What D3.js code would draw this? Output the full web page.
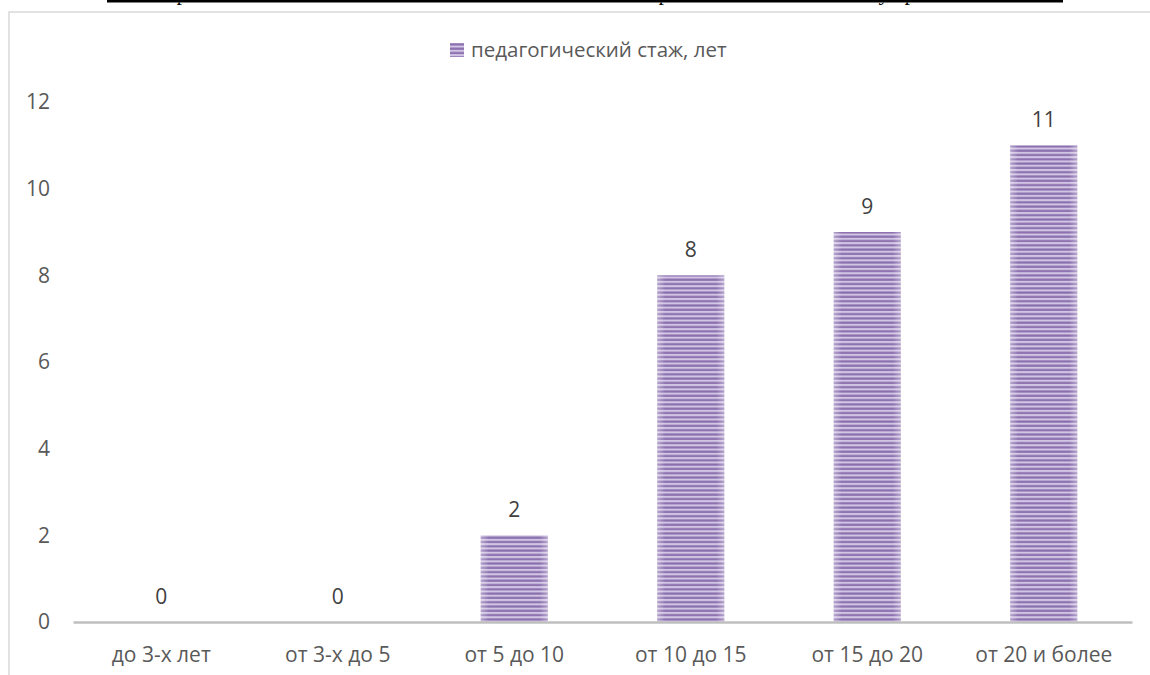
<!DOCTYPE html>
<html>
<head>
<meta charset="utf-8">
<script src="https://cdn.jsdelivr.net/npm/d3@7"></script>
<style>
  body { margin: 0; background: #fff; }
  svg { display: block; font-family: "Open Sans", sans-serif; }
</style>
</head>
<body>
<div id="chart"></div>
<script>
// chart data
var categories = ["до 3-х лет", "от 3-х до 5", "от 5 до 10", "от 10 до 15", "от 15 до 20", "от 20 и более"];
var values = [0, 0, 2, 8, 9, 11];
var yTicks = [0, 2, 4, 6, 8, 10, 12];
var seriesName = "педагогический стаж, лет";

var W = 1150, H = 675;
var margin = {top: 102, right: 18, bottom: 53, left: 73},
    width = W - margin.left - margin.right,
    height = H - margin.top - margin.bottom;

var svg = d3.select("#chart").append("svg")
    .attr("width", W)
    .attr("height", H);

// stripe pattern for the bars
var defs = svg.append("defs");
var pat = defs.append("pattern")
    .attr("id", "stripes")
    .attr("patternUnits", "userSpaceOnUse")
    .attr("width", 8)
    .attr("height", 4.3);
pat.append("rect").attr("width", 8).attr("height", 4.3).attr("fill", "#d2c5e4");
pat.append("rect").attr("y", 0.3).attr("width", 8).attr("height", 2.2).attr("fill", "#8a6fae");

var grad = defs.append("linearGradient").attr("id", "edgeGlow");
grad.append("stop").attr("offset", "0%").attr("stop-color", "#fff").attr("stop-opacity", 0.35);
grad.append("stop").attr("offset", "12%").attr("stop-color", "#fff").attr("stop-opacity", 0);
grad.append("stop").attr("offset", "88%").attr("stop-color", "#fff").attr("stop-opacity", 0);
grad.append("stop").attr("offset", "100%").attr("stop-color", "#fff").attr("stop-opacity", 0.35);

// heading fragment at the top of the page (cut off by the page edge)
[182, 664, 884, 910].forEach(function (px, i) {
    svg.append("text")
        .attr("x", px).attr("y", 0)
        .attr("text-anchor", "middle")
        .style("font-family", "'Liberation Serif', serif")
        .style("font-size", "22px")
        .text(i === 2 ? "у" : "р");
});
svg.append("rect")
    .attr("x", 0).attr("y", 0)
    .attr("width", W).attr("height", 2.5)
    .attr("fill", "#fff");
svg.append("rect")
    .attr("x", 107).attr("y", 0)
    .attr("width", 956).attr("height", 2.5)
    .attr("fill", "#000");

// chart frame
svg.append("rect")
    .attr("x", 9).attr("y", 12)
    .attr("width", W + 20).attr("height", H + 20)
    .attr("fill", "none")
    .attr("stroke", "#d9d9d9")
    .attr("stroke-width", 1.5);

var g = svg.append("g")
    .attr("transform", "translate(" + margin.left + "," + margin.top + ")");

var x = d3.scaleBand()
    .domain(categories)
    .range([0, width])
    .paddingInner(0.62)
    .paddingOuter(0.31);

var y = d3.scaleLinear()
    .domain([0, 12])
    .range([height, 0]);

// y axis labels
var yAxis = g.append("g")
    .attr("transform", "translate(-23,0)")
    .call(d3.axisLeft(y).tickValues(yTicks).tickSize(0).tickPadding(0));
yAxis.select(".domain").remove();
yAxis.selectAll("text")
    .attr("fill", "#595959")
    .style("font-size", "21px")
    .style("font-family", "'Open Sans', sans-serif");

// bars
g.selectAll(".bar")
    .data(values)
    .enter().append("rect")
    .attr("class", "bar")
    .attr("x", function (d, i) { return x(categories[i]); })
    .attr("y", function (d) { return y(d); })
    .attr("width", x.bandwidth())
    .attr("height", function (d) { return height - y(d); })
    .attr("fill", "url(#stripes)");

g.selectAll(".glow")
    .data(values)
    .enter().append("rect")
    .attr("class", "glow")
    .attr("x", function (d, i) { return x(categories[i]); })
    .attr("y", function (d) { return y(d); })
    .attr("width", x.bandwidth())
    .attr("height", function (d) { return height - y(d); })
    .attr("fill", "url(#edgeGlow)");

// x axis
var xAxis = g.append("g")
    .attr("transform", "translate(0," + height + ")")
    .call(d3.axisBottom(x).tickSize(0).tickPadding(25));
xAxis.select(".domain")
    .attr("stroke", "#bfbfbf")
    .attr("stroke-width", 2.5);
xAxis.selectAll("text")
    .attr("fill", "#595959")
    .style("font-size", "21px")
    .style("font-family", "'Open Sans', sans-serif");

// value labels
g.selectAll(".val")
    .data(values)
    .enter().append("text")
    .attr("class", "val")
    .attr("x", function (d, i) { return x(categories[i]) + x.bandwidth() / 2; })
    .attr("y", function (d) { return y(d) - 18; })
    .attr("text-anchor", "middle")
    .attr("fill", "#404040")
    .style("font-size", "21px")
    .text(function (d) { return d; });

// legend
var legend = svg.append("g")
    .attr("transform", "translate(450,43)");
legend.append("rect")
    .attr("width", 14).attr("height", 14)
    .attr("fill", "url(#stripes)");
legend.append("text")
    .attr("x", 21)
    .attr("y", 7)
    .attr("dy", ".35em")
    .attr("fill", "#595959")
    .style("font-size", "20.5px")
    .text(seriesName);
</script>
</body>
</html>
